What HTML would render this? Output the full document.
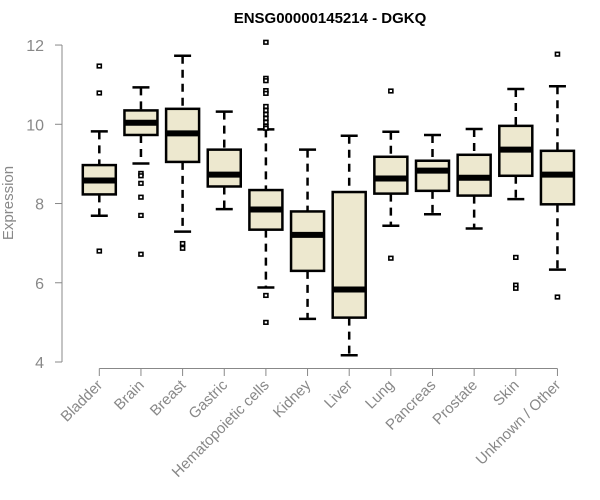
<!DOCTYPE html>
<html><head><meta charset="utf-8"><style>
body{margin:0;background:#fff}
svg{display:block;font-family:"Liberation Sans",Arial,sans-serif}
</style></head><body>
<svg id="chart" width="600" height="500" viewBox="0 0 600 500">
<text x="330" y="23" text-anchor="middle" font-weight="bold" font-size="15" fill="#000">ENSG00000145214 - DGKQ</text>
<text transform="translate(13,203) rotate(-90)" text-anchor="middle" font-size="15" fill="#888">Expression</text>
<g id="yaxis"></g>
<g id="xaxis"></g>
<g id="boxes"></g>
</svg>
<script>
const categories=["Bladder","Brain","Breast","Gastric","Hematopoietic cells","Kidney","Liver","Lung","Pancreas","Prostate","Skin","Unknown / Other"];
const whiskerLow=[7.69,9.01,7.29,7.86,5.88,5.09,4.17,7.44,7.73,7.37,8.11,6.33];
const q1=[8.23,9.73,9.05,8.43,7.34,6.30,5.12,8.25,8.32,8.20,8.70,7.98];
const median=[8.58,10.04,9.77,8.73,7.85,7.21,5.83,8.63,8.83,8.65,9.36,8.73];
const q3=[8.97,10.35,10.39,9.36,8.34,7.80,8.29,9.18,9.08,9.23,9.96,9.33];
const whiskerHigh=[9.82,10.93,11.73,10.32,9.87,9.36,9.71,9.81,9.73,9.88,10.89,10.96];
const outliers=[[11.47,10.79,6.80],[8.76,8.70,8.51,8.16,7.70,6.72],[6.99,6.87],[],
[12.07,11.16,11.10,10.85,10.78,10.45,10.35,10.25,10.15,10.05,9.95,9.90,5.68,5.00],[],[],[10.84,6.62],[],[],[6.64,5.94,5.86],[11.77,5.64]];
const yTicks=[4,6,8,10,12];
const NS="http://www.w3.org/2000/svg";
const y=v=>362-(v-4)*39.62;
const x=i=>99.3+i*41.65;
const bw=16.5;
function mk(tag,attrs,parent){const e=document.createElementNS(NS,tag);for(const k in attrs)e.setAttribute(k,attrs[k]);parent.appendChild(e);return e;}
const ya=document.getElementById('yaxis');
mk('line',{x1:62,x2:62,y1:y(12),y2:y(4),stroke:'#888','stroke-width':1},ya);
yTicks.forEach(t=>{
  const l=mk('line',{x1:55,x2:62,y1:y(t),y2:y(t),stroke:'#888'},ya);
  
  
  const tx=mk('text',{x:44,y:y(t)+6,'text-anchor':'end','font-size':16,fill:'#888'},ya);
  tx.textContent=t;
  
  
});
const xa=document.getElementById('xaxis');
mk('line',{x1:x(0),x2:x(11),y1:368.5,y2:368.5,stroke:'#888'},xa);
categories.forEach((c,i)=>{
  const l=mk('line',{x1:x(i),x2:x(i),y1:368.5,y2:376,stroke:'#888'},xa);
  
  
  const t=mk('text',{transform:`translate(${x(i)+4},${386}) rotate(-45)`,'text-anchor':'end','font-size':15,fill:'#888'},xa);
  t.textContent=c;
  
  
});
const bx=document.getElementById('boxes');
categories.forEach((c,i)=>{
  const g=mk('g',{},bx);
  
  
  const cx=x(i);
  mk('line',{x1:cx,x2:cx,y1:y(whiskerHigh[i]),y2:y(q3[i]),stroke:'#000','stroke-width':2.5,'stroke-dasharray':'8,6'},g);
  mk('line',{x1:cx,x2:cx,y1:y(q1[i]),y2:y(whiskerLow[i]),stroke:'#000','stroke-width':2.5,'stroke-dasharray':'8,6'},g);
  mk('line',{x1:cx-8.5,x2:cx+8.5,y1:y(whiskerHigh[i]),y2:y(whiskerHigh[i]),stroke:'#000','stroke-width':2.5},g);
  mk('line',{x1:cx-8.5,x2:cx+8.5,y1:y(whiskerLow[i]),y2:y(whiskerLow[i]),stroke:'#000','stroke-width':2.5},g);
  mk('rect',{x:cx-bw,y:y(q3[i]),width:bw*2,height:y(q1[i])-y(q3[i]),fill:'#ede8cf',stroke:'#000','stroke-width':2.5},g);
  mk('line',{x1:cx-bw,x2:cx+bw,y1:y(median[i]),y2:y(median[i]),stroke:'#000','stroke-width':6},g);
  outliers[i].forEach(v=>{
    const o=mk('rect',{x:cx-2,y:y(v)-1.8,width:4,height:3.6,fill:'#fff',stroke:'#000','stroke-width':1.6},g);
    
    
  });
});
</script>
</body></html>
